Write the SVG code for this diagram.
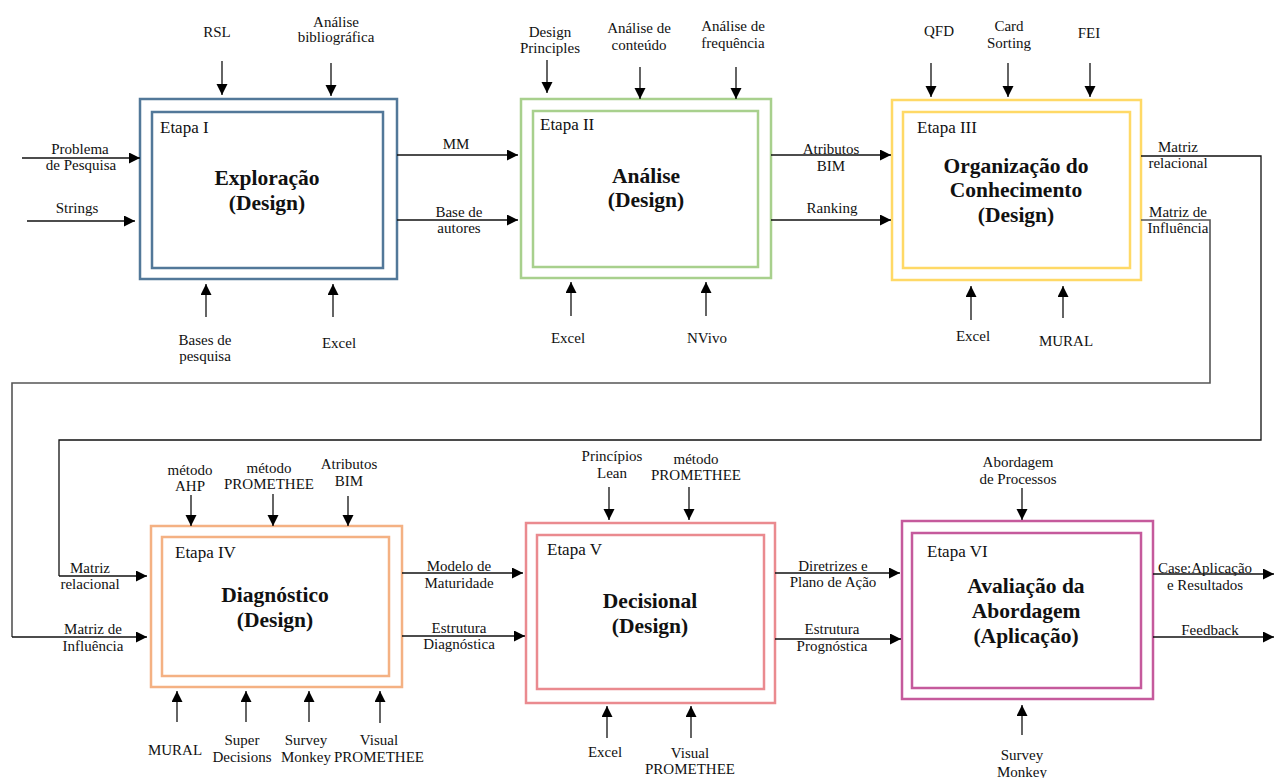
<svg xmlns="http://www.w3.org/2000/svg" width="1274" height="778" viewBox="0 0 1274 778" font-family="'Liberation Serif', 'Times New Roman', 'DejaVu Serif', serif">
  <defs>
    <marker id="ah" markerUnits="userSpaceOnUse" markerWidth="12" markerHeight="12" refX="11" refY="5.5" orient="auto">
      <path d="M0,0 L11,5.5 L0,11 z" fill="#000"/>
    </marker>
    <style>
      text { font-family: 'Liberation Serif', 'Times New Roman', 'DejaVu Serif', serif; fill: #111; }
      .lb { font-size: 15px; text-anchor: middle; }
      .et { font-size: 17px; }
      .tt { font-size: 21.5px; font-weight: bold; text-anchor: middle; }
      .box { fill: none; stroke-width: 2.5; }
      .cn { fill: none; stroke: #111; stroke-width: 1.3; }
      .ar { fill: none; stroke: #111; stroke-width: 1.3; marker-end: url(#ah); }
      .loop { fill: none; stroke: #555; stroke-width: 1.6; }
    </style>
  </defs>
  <rect width="1274" height="778" fill="#fff"/>

  <!-- Stage I -->
  <g id="etapa1">
    <rect class="box" x="140" y="99" width="257" height="180" stroke="#527899"/>
    <rect class="box" x="152" y="112" width="231" height="156" stroke="#527899"/>
    <text class="et" x="160" y="133">Etapa I</text>
    <text class="tt" x="267" y="185">Exploração</text>
    <text class="tt" x="267" y="210">(Design)</text>
  </g>

  <!-- Stage II -->
  <g id="etapa2">
    <rect class="box" x="521" y="99" width="250" height="179" stroke="#a8d08d"/>
    <rect class="box" x="533" y="111" width="225" height="156" stroke="#a8d08d"/>
    <text class="et" x="540" y="130">Etapa II</text>
    <text class="tt" x="646" y="183">Análise</text>
    <text class="tt" x="646" y="207">(Design)</text>
  </g>

  <!-- Stage III -->
  <g id="etapa3">
    <rect class="box" x="892" y="100" width="249" height="180" stroke="#ffd966"/>
    <rect class="box" x="903" y="112" width="227" height="156" stroke="#ffd966"/>
    <text class="et" x="917" y="133">Etapa III</text>
    <text class="tt" x="1016" y="173">Organização do</text>
    <text class="tt" x="1016" y="197">Conhecimento</text>
    <text class="tt" x="1016" y="222">(Design)</text>
  </g>

  <!-- Stage IV -->
  <g id="etapa4">
    <rect class="box" x="151" y="526" width="251" height="161" stroke="#f4b183"/>
    <rect class="box" x="162" y="537" width="227" height="139" stroke="#f4b183"/>
    <text class="et" x="175" y="558">Etapa IV</text>
    <text class="tt" x="275" y="602">Diagnóstico</text>
    <text class="tt" x="275" y="627">(Design)</text>
  </g>

  <!-- Stage V -->
  <g id="etapa5">
    <rect class="box" x="526" y="523" width="249" height="180" stroke="#ea8a8f"/>
    <rect class="box" x="537" y="535" width="227" height="154" stroke="#ea8a8f"/>
    <text class="et" x="547" y="555">Etapa V</text>
    <text class="tt" x="650" y="608">Decisional</text>
    <text class="tt" x="650" y="633">(Design)</text>
  </g>

  <!-- Stage VI -->
  <g id="etapa6">
    <rect class="box" x="902" y="521" width="251" height="178" stroke="#c55a9c"/>
    <rect class="box" x="912" y="533" width="229" height="155" stroke="#c55a9c"/>
    <text class="et" x="927" y="557">Etapa VI</text>
    <text class="tt" x="1026" y="593">Avaliação da</text>
    <text class="tt" x="1026" y="618">Abordagem</text>
    <text class="tt" x="1026" y="643">(Aplicação)</text>
  </g>

  <!-- Connectors -->
  <g id="connectors">
    <!-- Stage I inputs / controls / mechanisms -->
    <line class="ar" x1="22" y1="158" x2="140" y2="158"/>
    <line class="ar" x1="27" y1="221" x2="135" y2="221"/>
    <line class="ar" x1="222" y1="61" x2="222" y2="95"/>
    <line class="ar" x1="331" y1="63" x2="331" y2="96"/>
    <line class="ar" x1="206" y1="317" x2="206" y2="284"/>
    <line class="ar" x1="333" y1="317" x2="333" y2="284"/>

    <!-- I to II -->
    <line class="ar" x1="397" y1="155" x2="518" y2="155"/>
    <line class="ar" x1="397" y1="220" x2="518" y2="220"/>

    <!-- Stage II controls / mechanisms -->
    <line class="ar" x1="547" y1="60" x2="547" y2="93"/>
    <line class="ar" x1="640" y1="67" x2="640" y2="99"/>
    <line class="ar" x1="736" y1="67" x2="736" y2="99"/>
    <line class="ar" x1="571" y1="316" x2="571" y2="282"/>
    <line class="ar" x1="706" y1="316" x2="706" y2="282"/>

    <!-- II to III -->
    <line class="ar" x1="771" y1="155" x2="891" y2="155"/>
    <line class="ar" x1="771" y1="220" x2="891" y2="220"/>

    <!-- Stage III controls / mechanisms -->
    <line class="ar" x1="931" y1="63" x2="931" y2="97"/>
    <line class="ar" x1="1008" y1="63" x2="1008" y2="97"/>
    <line class="ar" x1="1090" y1="63" x2="1090" y2="97"/>
    <line class="ar" x1="971" y1="320" x2="971" y2="286"/>
    <line class="ar" x1="1063" y1="318" x2="1063" y2="286"/>

    <!-- III outputs routed back to IV -->
    <polyline class="cn" points="1141,156 1261,156 1261,440 59,440 59,576"/>
    <line class="ar" x1="59" y1="576" x2="147" y2="576"/>
    <polyline class="loop" points="1141,220 1210,220 1210,383 12,383 12,637"/>
    <line class="ar" x1="12" y1="637" x2="147" y2="637"/>

    <!-- Stage IV controls / mechanisms -->
    <line class="ar" x1="191" y1="495" x2="191" y2="526"/>
    <line class="ar" x1="273" y1="494" x2="273" y2="526"/>
    <line class="ar" x1="348" y1="496" x2="348" y2="526"/>
    <line class="ar" x1="177" y1="722" x2="177" y2="691"/>
    <line class="ar" x1="246" y1="722" x2="246" y2="691"/>
    <line class="ar" x1="309" y1="722" x2="309" y2="691"/>
    <line class="ar" x1="380" y1="723" x2="380" y2="691"/>

    <!-- IV to V -->
    <line class="ar" x1="402" y1="573" x2="523" y2="573"/>
    <line class="ar" x1="402" y1="636" x2="525" y2="636"/>

    <!-- Stage V controls / mechanisms -->
    <line class="ar" x1="609" y1="487" x2="609" y2="520"/>
    <line class="ar" x1="689" y1="487" x2="689" y2="520"/>
    <line class="ar" x1="607" y1="738" x2="607" y2="706"/>
    <line class="ar" x1="691" y1="738" x2="691" y2="706"/>

    <!-- V to VI -->
    <line class="ar" x1="775" y1="573" x2="900" y2="573"/>
    <line class="ar" x1="775" y1="639" x2="901" y2="639"/>

    <!-- Stage VI controls / mechanisms / outputs -->
    <line class="ar" x1="1022" y1="488" x2="1022" y2="520"/>
    <line class="ar" x1="1022" y1="735" x2="1022" y2="705"/>
    <line class="ar" x1="1153" y1="574" x2="1274" y2="574"/>
    <line class="ar" x1="1153" y1="637" x2="1274" y2="637"/>
  </g>

  <!-- Connector labels -->
  <g id="labels">
    <text class="lb" x="217" y="37">RSL</text>
    <text class="lb" x="336" y="27">Análise</text>
    <text class="lb" x="336" y="42">bibliográfica</text>
    <text class="lb" x="80" y="154">Problema</text>
    <text class="lb" x="81" y="170">de Pesquisa</text>
    <text class="lb" x="77" y="213">Strings</text>
    <text class="lb" x="205" y="345">Bases de</text>
    <text class="lb" x="205" y="361">pesquisa</text>
    <text class="lb" x="339" y="348">Excel</text>

    <text class="lb" x="456" y="149">MM</text>
    <text class="lb" x="459" y="217">Base de</text>
    <text class="lb" x="459" y="233">autores</text>
    <text class="lb" x="550" y="37">Design</text>
    <text class="lb" x="550" y="53">Principles</text>
    <text class="lb" x="639" y="33">Análise de</text>
    <text class="lb" x="639" y="50">conteúdo</text>
    <text class="lb" x="733" y="31">Análise de</text>
    <text class="lb" x="733" y="48">frequência</text>
    <text class="lb" x="568" y="343">Excel</text>
    <text class="lb" x="707" y="343">NVivo</text>

    <text class="lb" x="831" y="154">Atributos</text>
    <text class="lb" x="831" y="171">BIM</text>
    <text class="lb" x="832" y="213">Ranking</text>
    <text class="lb" x="939" y="36">QFD</text>
    <text class="lb" x="1009" y="31">Card</text>
    <text class="lb" x="1009" y="48">Sorting</text>
    <text class="lb" x="1089" y="38">FEI</text>
    <text class="lb" x="973" y="341">Excel</text>
    <text class="lb" x="1066" y="346">MURAL</text>
    <text class="lb" x="1178" y="152">Matriz</text>
    <text class="lb" x="1178" y="168">relacional</text>
    <text class="lb" x="1178" y="217">Matriz de</text>
    <text class="lb" x="1178" y="233">Influência</text>

    <text class="lb" x="90" y="573">Matriz</text>
    <text class="lb" x="90" y="589">relacional</text>
    <text class="lb" x="93" y="634">Matriz de</text>
    <text class="lb" x="93" y="651">Influência</text>
    <text class="lb" x="190" y="475">método</text>
    <text class="lb" x="190" y="491">AHP</text>
    <text class="lb" x="269" y="473">método</text>
    <text class="lb" x="269" y="489">PROMETHEE</text>
    <text class="lb" x="349" y="469">Atributos</text>
    <text class="lb" x="349" y="486">BIM</text>
    <text class="lb" x="175" y="755">MURAL</text>
    <text class="lb" x="242" y="745">Super</text>
    <text class="lb" x="242" y="762">Decisions</text>
    <text class="lb" x="306" y="745">Survey</text>
    <text class="lb" x="306" y="762">Monkey</text>
    <text class="lb" x="379" y="745">Visual</text>
    <text class="lb" x="379" y="762">PROMETHEE</text>

    <text class="lb" x="459" y="571">Modelo de</text>
    <text class="lb" x="459" y="588">Maturidade</text>
    <text class="lb" x="459" y="633">Estrutura</text>
    <text class="lb" x="459" y="649">Diagnóstica</text>
    <text class="lb" x="612" y="461">Princípios</text>
    <text class="lb" x="612" y="478">Lean</text>
    <text class="lb" x="696" y="464">método</text>
    <text class="lb" x="696" y="480">PROMETHEE</text>
    <text class="lb" x="605" y="757">Excel</text>
    <text class="lb" x="690" y="758">Visual</text>
    <text class="lb" x="690" y="774">PROMETHEE</text>

    <text class="lb" x="833" y="571">Diretrizes e</text>
    <text class="lb" x="833" y="587">Plano de Ação</text>
    <text class="lb" x="832" y="634">Estrutura</text>
    <text class="lb" x="832" y="651">Prognóstica</text>
    <text class="lb" x="1018" y="467">Abordagem</text>
    <text class="lb" x="1018" y="484">de Processos</text>
    <text class="lb" x="1022" y="760">Survey</text>
    <text class="lb" x="1022" y="777">Monkey</text>
    <text class="lb" x="1205" y="573">Case:Aplicação</text>
    <text class="lb" x="1205" y="590">e Resultados</text>
    <text class="lb" x="1210" y="635">Feedback</text>
  </g>
</svg>
